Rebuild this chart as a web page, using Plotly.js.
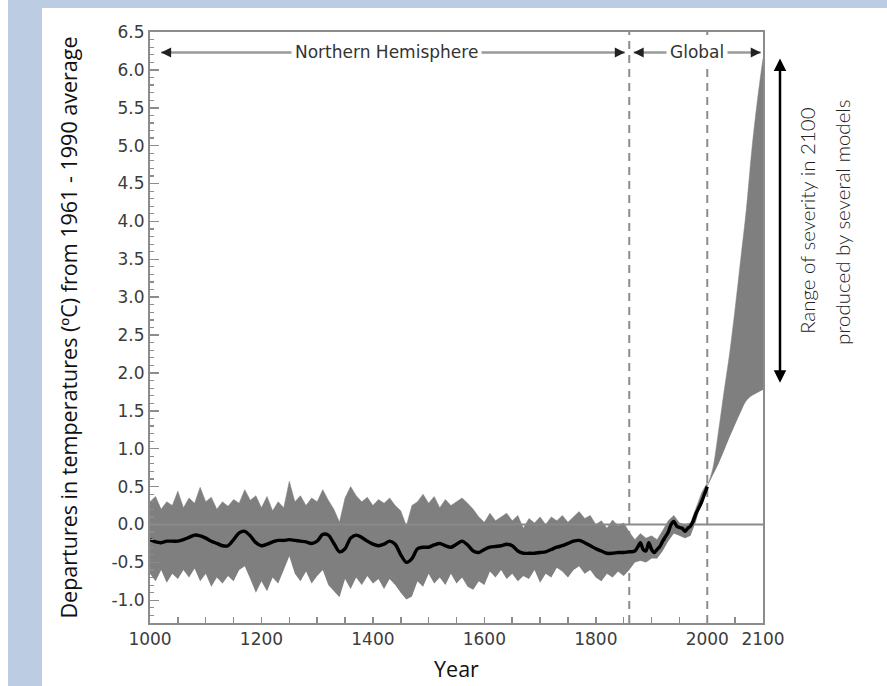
<!DOCTYPE html>
<html>
<head>
<meta charset="utf-8">
<script src="https://cdn.plot.ly/plotly-3.0.1.min.js"></script>
<style>
  html, body { margin: 0; padding: 0; background: #ffffff; }
  #chart { width: 887px; height: 686px; }
</style>
</head>
<body>
<div id="chart"></div>
<script>
// ---------- DATA ----------
// Reconstructed band (uncertainty envelope), every 10 years 1000..2000
const bandYears = [];
for (let y = 1000; y <= 2000; y += 10) bandYears.push(y);

const bandUpper = [
  0.30, 0.37, 0.20, 0.30, 0.25, 0.44, 0.22, 0.35, 0.28, 0.49,
  0.30, 0.36, 0.20, 0.30, 0.24, 0.33, 0.28, 0.46, 0.32, 0.38,
  0.22, 0.37, 0.18, 0.30, 0.22, 0.57, 0.30, 0.38, 0.25, 0.35,
  0.30, 0.46, 0.32, 0.20, 0.03, 0.35, 0.50, 0.38, 0.30, 0.36,
  0.25, 0.33, 0.28, 0.35, 0.25, 0.18, -0.02, 0.25, 0.30, 0.40,
  0.28, 0.37, 0.22, 0.33, 0.25, 0.30, 0.35, 0.28, 0.20, 0.10,
  0.03, 0.15, 0.05, 0.10, 0.15, 0.05, 0.12, -0.05, 0.08, 0.02,
  0.10, 0.00, 0.10, 0.05, 0.12, 0.03, 0.10, 0.17, 0.08, 0.12,
  0.00, 0.05, -0.05, 0.06, -0.02, 0.02, -0.10, -0.20, -0.12, -0.18,
  -0.15, -0.20, -0.08, 0.05, 0.12, 0.02, 0.00, 0.02, 0.22, 0.42,
  0.55
];
const bandLower = [
  -0.65, -0.75, -0.60, -0.77, -0.65, -0.72, -0.60, -0.70, -0.58, -0.75,
  -0.65, -0.82, -0.70, -0.78, -0.68, -0.75, -0.60, -0.55, -0.72, -0.90,
  -0.75, -0.88, -0.70, -0.78, -0.60, -0.42, -0.65, -0.75, -0.62, -0.78,
  -0.68, -0.60, -0.80, -0.88, -0.96, -0.72, -0.85, -0.70, -0.80, -0.68,
  -0.78, -0.72, -0.85, -0.72, -0.80, -0.90, -0.99, -0.95, -0.75, -0.82,
  -0.65, -0.78, -0.70, -0.80, -0.65, -0.78, -0.70, -0.82, -0.86, -0.75,
  -0.80, -0.62, -0.70, -0.60, -0.72, -0.65, -0.75, -0.68, -0.72, -0.60,
  -0.77, -0.65, -0.70, -0.57, -0.62, -0.70, -0.60, -0.55, -0.65, -0.60,
  -0.70, -0.75, -0.65, -0.70, -0.62, -0.68, -0.60, -0.50, -0.48, -0.50,
  -0.45, -0.45, -0.35, -0.22, -0.12, -0.15, -0.18, -0.15, 0.05, 0.30,
  0.45
];

// Smoothed temperature curve
const lineYears = [
  1000,1010,1020,1030,1040,1050,1060,1070,1080,1090,
  1100,1110,1120,1130,1140,1150,1160,1170,1180,1190,
  1200,1210,1220,1230,1240,1250,1260,1270,1280,1290,
  1300,1310,1320,1330,1340,1350,1360,1370,1380,1390,
  1400,1410,1420,1430,1440,1450,1460,1470,1480,1490,
  1500,1510,1520,1530,1540,1550,1560,1570,1580,1590,
  1600,1610,1620,1630,1640,1650,1660,1670,1680,1690,
  1700,1710,1720,1730,1740,1750,1760,1770,1780,1790,
  1800,1810,1820,1830,1840,1850,1860,1865,1870,1875,
  1880,1885,1890,1895,1900,1905,1910,1915,1920,1925,
  1930,1935,1940,1945,1950,1955,1960,1965,1970,1975,
  1980,1985,1990,1995,2000
];
const lineValues = [
  -0.20,-0.23,-0.24,-0.22,-0.22,-0.22,-0.20,-0.17,-0.14,-0.15,
  -0.18,-0.22,-0.25,-0.28,-0.28,-0.20,-0.11,-0.09,-0.15,-0.24,
  -0.28,-0.26,-0.23,-0.21,-0.21,-0.20,-0.21,-0.22,-0.23,-0.25,
  -0.22,-0.13,-0.14,-0.25,-0.36,-0.32,-0.18,-0.14,-0.17,-0.22,
  -0.26,-0.28,-0.26,-0.22,-0.26,-0.40,-0.50,-0.45,-0.32,-0.30,
  -0.30,-0.27,-0.25,-0.28,-0.30,-0.26,-0.22,-0.27,-0.35,-0.37,
  -0.33,-0.30,-0.29,-0.28,-0.26,-0.28,-0.35,-0.38,-0.38,-0.38,
  -0.37,-0.36,-0.33,-0.30,-0.28,-0.25,-0.22,-0.21,-0.24,-0.28,
  -0.32,-0.35,-0.38,-0.38,-0.37,-0.37,-0.36,-0.36,-0.35,-0.30,
  -0.24,-0.33,-0.35,-0.24,-0.33,-0.37,-0.33,-0.29,-0.22,-0.16,
  -0.10, 0.00, 0.04,-0.02,-0.04,-0.05,-0.09,-0.05,-0.02, 0.05,
   0.15, 0.22, 0.30, 0.40, 0.50
];

// Model projection range 2000..2100
const projYears = [2000,2010,2020,2030,2040,2050,2060,2070,2080,2090,2100];
const projUpper = [0.50,0.74,1.22,1.75,2.25,2.85,3.50,4.15,4.95,5.60,6.15];
const projLower = [0.50,0.65,0.80,0.97,1.15,1.32,1.48,1.63,1.70,1.74,1.78];

// Axis & labels
const xRange = [1000, 2100];
const yRange = [-1.3, 6.5];
const xTickVals = [1000, 1200, 1400, 1600, 1800, 2000, 2100];
const xTickText = ['1000', '1200', '1400', '1600', '1800', '2000', '2100'];
const yTickVals = [-1.0,-0.5,0.0,0.5,1.0,1.5,2.0,2.5,3.0,3.5,4.0,4.5,5.0,5.5,6.0,6.5];
const yTickText = ['-1.0','-0.5','0.0','0.5','1.0','1.5','2.0','2.5','3.0','3.5','4.0','4.5','5.0','5.5','6.0','6.5'];
const zeroLine = [0, 0];
const periodBreaks = [1860, 2000];
const periodLabels = ['Northern Hemisphere', 'Global'];
const severityRange = [1.85, 6.15];

// ---------- STYLES ----------
const GREY_FILL = '#7f7f7f';
const AXIS_GREY = '#8c8c8c';
const BLUE = '#bccde3';
const tickFont = { family: 'DejaVu Sans, sans-serif', size: 17, color: '#3c3c3c' };
const titleFont = { family: 'Open Sans, sans-serif', size: 21.5, color: '#111' };

const traces = [
  { x: bandYears, y: bandLower, type: 'scatter', mode: 'lines',
    line: { width: 0, color: GREY_FILL }, hoverinfo: 'skip', showlegend: false },
  { x: bandYears, y: bandUpper, type: 'scatter', mode: 'lines', fill: 'tonexty',
    fillcolor: GREY_FILL, line: { width: 0.5, color: GREY_FILL }, hoverinfo: 'skip', showlegend: false },
  { x: projYears, y: projLower, type: 'scatter', mode: 'lines',
    line: { width: 0, color: GREY_FILL, shape: 'spline' }, hoverinfo: 'skip', showlegend: false },
  { x: projYears, y: projUpper, type: 'scatter', mode: 'lines', fill: 'tonexty',
    fillcolor: GREY_FILL, line: { width: 0.5, color: GREY_FILL, shape: 'spline' }, hoverinfo: 'skip', showlegend: false },
  { x: xRange, y: zeroLine, type: 'scatter', mode: 'lines',
    line: { width: 2, color: '#8a8a8a' }, hoverinfo: 'skip', showlegend: false },
  { x: lineYears, y: lineValues, type: 'scatter', mode: 'lines',
    line: { width: 3.4, color: '#000', shape: 'spline', smoothing: 0.8 }, showlegend: false }
];

// paper-coordinate helpers (plot area 150..763 px wide, 32..623 px tall)
const L = 150, R = 763, T = 32, B = 623;
const px = v => (v - L) / (R - L);
const py = v => (B - v) / (B - T);

const shapes = [
  // light blue frame pieces
  { type: 'rect', xref: 'paper', yref: 'paper', x0: px(8), x1: px(42), y0: py(686), y1: py(0),
    fillcolor: BLUE, line: { width: 0 }, layer: 'below' },
  { type: 'rect', xref: 'paper', yref: 'paper', x0: px(8), x1: px(887), y0: py(8), y1: py(0),
    fillcolor: BLUE, line: { width: 0 }, layer: 'below' },
  // dashed period separators
  ...periodBreaks.map(v => ({ type: 'line', xref: 'x', yref: 'paper', x0: v, x1: v, y0: 0, y1: 1,
    line: { color: AXIS_GREY, width: 2, dash: '8px,6px' }, layer: 'below' })),
  // period span lines
  { type: 'line', xref: 'x', yref: 'y', x0: 1020, x1: 1852, y0: 6.23, y1: 6.23,
    line: { color: '#9a9a9a', width: 2.5 } },
  { type: 'line', xref: 'x', yref: 'y', x0: 1868, x1: 2096, y0: 6.23, y1: 6.23,
    line: { color: '#9a9a9a', width: 2.5 } }
];

const headStyle = { showarrow: true, arrowhead: 2, arrowsize: 1, arrowwidth: 2,
  arrowcolor: '#222', text: '', standoff: 0, xref: 'x', yref: 'y' };
const labelFont = { family: 'DejaVu Sans, sans-serif', size: 17, color: '#333' };
const sideFont = { family: 'Lato, sans-serif', size: 20.5, color: '#222', weight: 300 };

const annotations = [
  { x: 1424, y: 6.23, xref: 'x', yref: 'y', text: periodLabels[0], showarrow: false,
    font: labelFont, bgcolor: '#fff', borderpad: 3 },
  { x: 1981, y: 6.23, xref: 'x', yref: 'y', text: periodLabels[1], showarrow: false,
    font: labelFont, bgcolor: '#fff', borderpad: 3 },
  Object.assign({}, headStyle, { x: 1020, y: 6.23, ax: 10, ay: 0 }),
  Object.assign({}, headStyle, { x: 1852, y: 6.23, ax: -10, ay: 0 }),
  Object.assign({}, headStyle, { x: 1868, y: 6.23, ax: 10, ay: 0 }),
  Object.assign({}, headStyle, { x: 2096, y: 6.23, ax: -10, ay: 0 }),
  // range-of-severity double arrow
  { xref: 'paper', yref: 'y', x: px(780), y: severityRange[1], axref: 'pixel', ayref: 'y',
    ax: 0, ay: severityRange[0], text: '', showarrow: true, arrowside: 'end+start',
    arrowhead: 2, arrowsize: 1, arrowwidth: 2.5, arrowcolor: '#000', standoff: 0, startstandoff: 0 },
  { xref: 'paper', yref: 'paper', x: px(807), y: py(221), xanchor: 'center', yanchor: 'middle',
    text: 'Range of severity in 2100', showarrow: false, textangle: -90, font: sideFont },
  { xref: 'paper', yref: 'paper', x: px(842), y: py(222), xanchor: 'center', yanchor: 'middle',
    text: 'produced by several models', showarrow: false, textangle: -90, font: sideFont }
];

const layout = {
  width: 887, height: 686,
  margin: { l: L, r: 887 - R, t: T, b: 686 - B, pad: 0 },
  paper_bgcolor: '#ffffff', plot_bgcolor: '#ffffff',
  showlegend: false,
  xaxis: {
    range: xRange, tickmode: 'array', tickvals: xTickVals, ticktext: xTickText,
    ticks: 'inside', ticklen: 6, tickwidth: 1.5, tickcolor: AXIS_GREY,
    minor: { dtick: 50, tick0: 1000, ticks: 'inside', ticklen: 6, tickwidth: 1.5, tickcolor: AXIS_GREY },
    showline: true, linecolor: AXIS_GREY, linewidth: 2, mirror: true,
    showgrid: false, zeroline: false, tickfont: tickFont,
    title: { text: 'Year', font: titleFont, standoff: 14 }
  },
  yaxis: {
    range: yRange, tickmode: 'array', tickvals: yTickVals, ticktext: yTickText,
    ticks: 'inside', ticklen: 9, tickwidth: 1.5, tickcolor: AXIS_GREY,
    minor: { dtick: 0.1, tick0: 0, ticks: 'inside', ticklen: 4, tickwidth: 1.2, tickcolor: AXIS_GREY },
    showline: true, linecolor: AXIS_GREY, linewidth: 2, mirror: true,
    showgrid: false, zeroline: false, tickfont: tickFont,
    title: { text: 'Departures in temperatures (ºC) from 1961 - 1990 average', font: titleFont, standoff: 28 }
  },
  shapes: shapes,
  annotations: annotations
};

Plotly.newPlot('chart', traces, layout, { displayModeBar: false, staticPlot: true });
</script>
</body>
</html>
